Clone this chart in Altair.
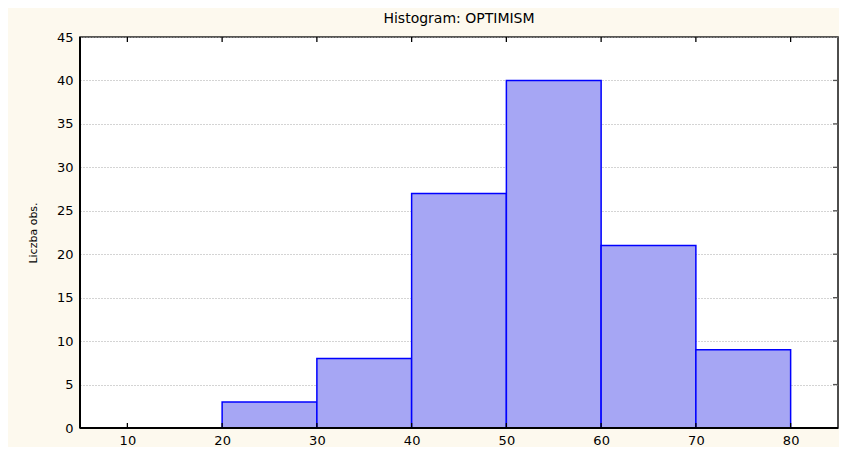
import altair as alt
import pandas as pd

bin_start = [10, 20, 30, 40, 50, 60, 70]
bin_end = [20, 30, 40, 50, 60, 70, 80]
counts = [0, 3, 8, 27, 40, 21, 9]
x_ticks = [10, 20, 30, 40, 50, 60, 70, 80]
y_ticks = [0, 5, 10, 15, 20, 25, 30, 35, 40, 45]

df = pd.DataFrame({"start": bin_start, "end": bin_end, "count": counts})
xt = pd.DataFrame({"v": x_ticks})
yt = pd.DataFrame({"v": y_ticks[1:-1]})

FONT = "DejaVu Sans"
W, H = 758, 391

xscale = alt.Scale(domain=[5, 85], nice=False, zero=False)
yscale = alt.Scale(domain=[0, 45], nice=False)

bars = alt.Chart(df).transform_filter("datum.count > 0").mark_bar(
    fill="#A6A6F4", stroke="#0000FF", strokeWidth=1.5
).encode(
    x=alt.X("start:Q", scale=xscale,
            axis=alt.Axis(values=x_ticks, title=None, ticks=False, domain=False,
                          grid=False, labelFont=FONT, labelFontSize=13,
                          labelColor="black", labelPadding=6)),
    x2="end:Q",
    y=alt.Y("count:Q", scale=yscale,
            axis=alt.Axis(values=y_ticks, title="Liczba obs.", ticks=False,
                          domain=False, grid=True, gridColor="#a8a8a8",
                          gridDash=[1, 2], gridWidth=1,
                          labelFont=FONT, labelFontSize=13, labelColor="black",
                          labelPadding=7, titleFont=FONT, titleFontSize=11,
                          titleFontWeight="normal", titleColor="black",
                          titleX=-47, titleY=H / 2, titleAngle=-90,
                          titleAlign="center", titleBaseline="middle")),
    y2=alt.value(H),
)

top_ticks = alt.Chart(xt).mark_rule(color="black", strokeWidth=1.3).encode(
    x=alt.X("v:Q", scale=xscale), y=alt.value(0), y2=alt.value(5))
bot_ticks = alt.Chart(xt).mark_rule(color="black", strokeWidth=1.3).encode(
    x=alt.X("v:Q", scale=xscale), y=alt.value(H - 5), y2=alt.value(H))
right_ticks = alt.Chart(yt).mark_rule(color="#555555", strokeWidth=1.3).encode(
    y=alt.Y("v:Q", scale=yscale), x=alt.value(W - 5), x2=alt.value(W))
left_axis = alt.Chart(xt).mark_rule(color="black", strokeWidth=2).encode(
    x=alt.value(0), y=alt.value(0), y2=alt.value(H))
bottom_axis = alt.Chart(xt).mark_rule(color="black", strokeWidth=2).encode(
    x=alt.value(0), x2=alt.value(W), y=alt.value(H))

chart = alt.layer(bars, top_ticks, bot_ticks, right_ticks, left_axis, bottom_axis).properties(
    width=W, height=H,
    title=alt.Title("Histogram: OPTIMISM", font=FONT, fontSize=14,
                    fontWeight="normal", color="black", anchor="middle", offset=5),
    background="#FDF9EE",
    padding={"left": 72, "top": 29, "right": 1, "bottom": 19},
    autosize="none",
).configure_view(
    fill="white", stroke="#222222", strokeWidth=1.6
)

chart.save("out.html", embed_options={"renderer": "svg", "actions": False})
